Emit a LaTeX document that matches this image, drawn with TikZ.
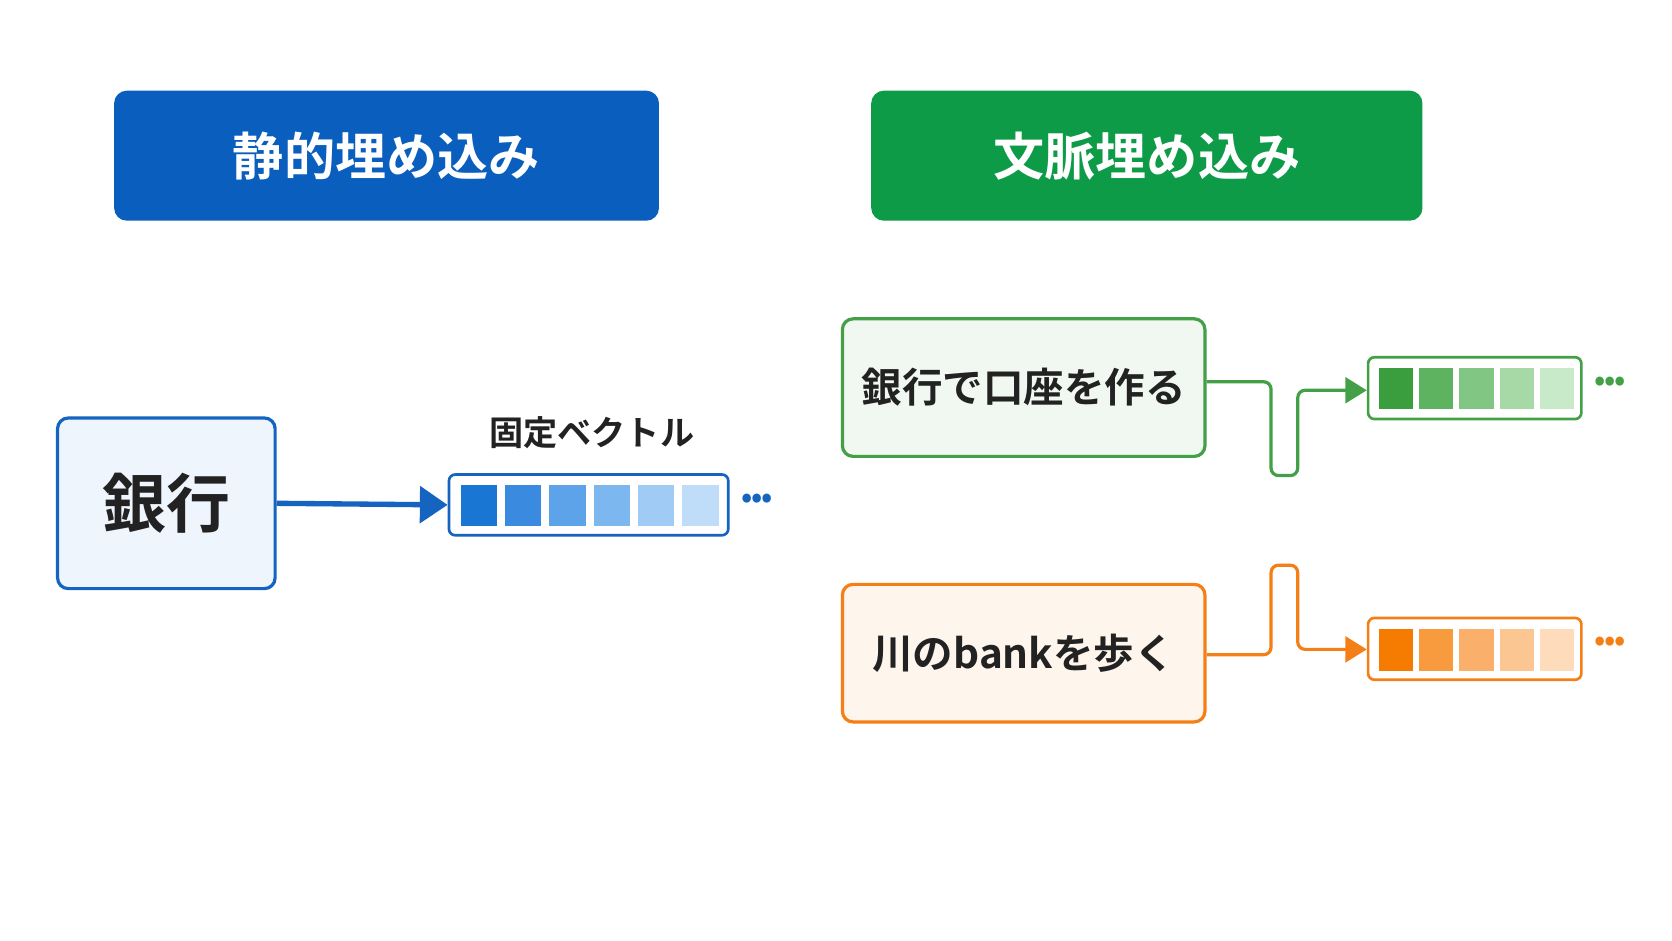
\documentclass[tikz,border=0pt]{standalone}
\usepackage{fontspec}
\newfontfamily\jp{Noto Sans CJK JP}[BoldFont={Noto Sans CJK JP Bold}]
\usetikzlibrary{arrows.meta}
\definecolor{bh}{HTML}{0A5EBE}
\definecolor{gh}{HTML}{0E9B48}
\definecolor{bl}{HTML}{1565C0}
\definecolor{gr}{HTML}{43A047}
\definecolor{or}{HTML}{F57F17}
\definecolor{txt}{HTML}{222222}
\begin{document}
\begin{tikzpicture}[x=1pt,y=-1pt,
  hdr/.style={rounded corners=12pt,inner sep=0pt,font=\jp\bfseries\fontsize{48}{50}\selectfont,text=white},
  wbox/.style={rounded corners=10pt,line width=3pt,inner sep=0pt,text=txt},
  vec/.style={rounded corners=6pt,line width=2.5pt,fill=white,inner sep=0pt},
  conn/.style={line width=3pt,rounded corners=7pt,-{Triangle[length=20pt,width=24pt]}},
  dots/.style={font=\jp\bfseries\fontsize{28}{28}\selectfont}]
\useasboundingbox (0,0) rectangle (1568,882);
\fill[white] (0,0) rectangle (1568,882);
% headers
\node[hdr,fill=bh,minimum width=511pt,minimum height=122pt] (h1) at (362.5,146) {静的埋め込み};
\node[hdr,fill=gh,minimum width=517pt,minimum height=122pt] (h2) at (1075.5,146) {文脈埋め込み};
% left
\node[wbox,draw=bl,fill={rgb,255:red,238;green,245;blue,253},minimum width=204pt,minimum height=160pt,font=\jp\bfseries\fontsize{60}{62}\selectfont] (w) at (156,472) {銀行};
\node[vec,draw=bl,minimum width=262pt,minimum height=57pt] (v1) at (552,473.5) {};
\node[font=\jp\bfseries\fontsize{32}{34}\selectfont,text=txt] (lab) at (555,406) {固定ベクトル};
\foreach \i/\c in {0/1976D2,1/3A8BE0,2/5CA3EA,3/7DB7F0,4/A0CBF5,5/BFDDF9}{
  \definecolor{tmp}{HTML}{\c}
  \fill[tmp] (432+\i*41.6,455) rectangle ++(34,38);}
\node[dots,text=bl] (d1) at (710,470) {\textbullet\kern-1pt\textbullet\kern-1pt\textbullet};
\draw[conn,bl,line width=5pt,-{Triangle[length=26pt,width=34pt]}] (w.east) -- (v1.west);
% right green
\node[wbox,draw=gr,fill={rgb,255:red,241;green,248;blue,241},minimum width=340pt,minimum height=129pt,font=\jp\bfseries\fontsize{38}{40}\selectfont] (g) at (960,363.5) {銀行で口座を作る};
\node[vec,draw=gr,minimum width=200pt,minimum height=58pt] (v2) at (1383,364) {};
\foreach \i/\c in {0/3A9D3E,1/5DB35F,2/82C683,3/A6D9A6,4/C9EAC8}{
  \definecolor{tmp}{HTML}{\c}
  \fill[tmp] (1293+\i*37.8,345) rectangle ++(32,39);}
\node[dots,text=gr] (d2) at (1510,360) {\textbullet\kern-1pt\textbullet\kern-1pt\textbullet};
\coordinate (g1) at (1192,358);
\draw[conn,gr] (g.east |- g1) -- (g1) -- (1192,446) -- (1217,446) -- (1217,366) -- (v2.west |- 0,366);
% right orange
\node[wbox,draw=or,fill={rgb,255:red,254;green,245;blue,236},minimum width=340pt,minimum height=129pt,font=\jp\bfseries\fontsize{38}{40}\selectfont] (o) at (960,612.5) {川のbankを歩く};
\node[vec,draw=or,minimum width=200pt,minimum height=58pt] (v3) at (1383,608.5) {};
\foreach \i/\c in {0/F57C00,1/F89A3E,2/FAB06A,3/FCC693,4/FDDBBB}{
  \definecolor{tmp}{HTML}{\c}
  \fill[tmp] (1293+\i*37.8,590) rectangle ++(32,39);}
\node[dots,text=or] (d3) at (1510,604) {\textbullet\kern-1pt\textbullet\kern-1pt\textbullet};
\coordinate (o1) at (1192,614);
\draw[conn,or] (o.east |- o1) -- (o1) -- (1192,530) -- (1217,530) -- (1217,609) -- (v3.west |- 0,609);
\end{tikzpicture}
\end{document}
